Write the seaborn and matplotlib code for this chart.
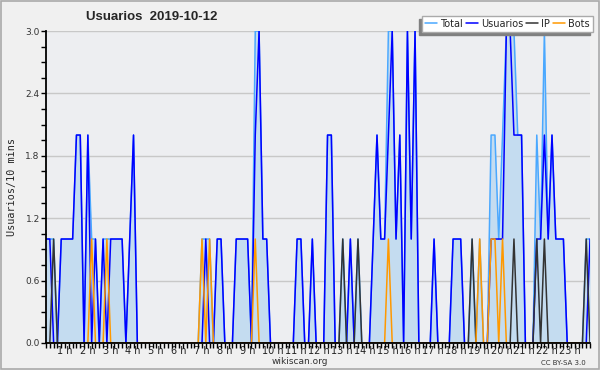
import numpy as np
import pandas as pd
import seaborn as sns
import matplotlib.pyplot as plt
from matplotlib.ticker import MultipleLocator

# valores cada 10 minutos, 12 por fila (2 horas)
total = [1, 1, 1, 0, 1, 1, 1, 1, 2, 2, 0, 2,
         1, 1, 0, 1, 1, 1, 1, 1, 1, 0, 1, 2,
         0, 0, 0, 0, 0, 0, 0, 0, 0, 0, 0, 0,
         0, 0, 0, 0, 0, 1, 1, 1, 0, 1, 1, 0,
         0, 0, 1, 1, 1, 1, 0, 3, 3, 1, 1, 0,
         0, 0, 0, 0, 0, 0, 1, 1, 0, 0, 1, 0,
         0, 0, 2, 2, 0, 0, 1, 0, 1, 0, 1, 0,
         0, 0, 1, 2, 1, 1, 3, 3, 1, 2, 0, 3,
         1, 3, 0, 0, 0, 0, 1, 0, 0, 0, 0, 1,
         1, 1, 0, 0, 1, 0, 1, 0, 0, 2, 2, 1,
         2, 3, 3, 3, 2, 2, 0, 0, 0, 2, 1, 3,
         1, 2, 1, 1, 1, 0, 0, 0, 0, 0, 1, 1]
usuarios = [1, 1, 0, 0, 1, 1, 1, 1, 2, 2, 0, 2,
            0, 1, 0, 1, 0, 1, 1, 1, 1, 0, 1, 2,
            0, 0, 0, 0, 0, 0, 0, 0, 0, 0, 0, 0,
            0, 0, 0, 0, 0, 0, 1, 0, 0, 1, 1, 0,
            0, 0, 1, 1, 1, 1, 0, 2, 3, 1, 1, 0,
            0, 0, 0, 0, 0, 0, 1, 1, 0, 0, 1, 0,
            0, 0, 2, 2, 0, 0, 0, 0, 1, 0, 0, 0,
            0, 0, 1, 2, 1, 1, 2, 3, 1, 2, 0, 3,
            1, 3, 0, 0, 0, 0, 1, 0, 0, 0, 0, 1,
            1, 1, 0, 0, 0, 0, 0, 0, 0, 1, 1, 1,
            1, 3, 3, 2, 2, 2, 0, 0, 0, 1, 1, 2,
            1, 2, 1, 1, 1, 0, 0, 0, 0, 0, 0, 1]
ip = [0, 0, 1, 0, 0, 0, 0, 0, 0, 0, 0, 0,
      0, 0, 0, 0, 0, 0, 0, 0, 0, 0, 0, 0,
      0, 0, 0, 0, 0, 0, 0, 0, 0, 0, 0, 0,
      0, 0, 0, 0, 0, 0, 0, 0, 0, 0, 0, 0,
      0, 0, 0, 0, 0, 0, 0, 0, 0, 0, 0, 0,
      0, 0, 0, 0, 0, 0, 0, 0, 0, 0, 0, 0,
      0, 0, 0, 0, 0, 0, 1, 0, 0, 0, 1, 0,
      0, 0, 0, 0, 0, 0, 0, 0, 0, 0, 0, 0,
      0, 0, 0, 0, 0, 0, 0, 0, 0, 0, 0, 0,
      0, 0, 0, 0, 1, 0, 0, 0, 0, 0, 0, 0,
      0, 0, 0, 1, 0, 0, 0, 0, 0, 1, 0, 1,
      0, 0, 0, 0, 0, 0, 0, 0, 0, 0, 1, 0]
bots = [0, 0, 0, 0, 0, 0, 0, 0, 0, 0, 0, 0,
        1, 0, 0, 0, 1, 0, 0, 0, 0, 0, 0, 0,
        0, 0, 0, 0, 0, 0, 0, 0, 0, 0, 0, 0,
        0, 0, 0, 0, 0, 1, 0, 1, 0, 0, 0, 0,
        0, 0, 0, 0, 0, 0, 0, 1, 0, 0, 0, 0,
        0, 0, 0, 0, 0, 0, 0, 0, 0, 0, 0, 0,
        0, 0, 0, 0, 0, 0, 0, 0, 0, 0, 0, 0,
        0, 0, 0, 0, 0, 0, 1, 0, 0, 0, 0, 0,
        0, 0, 0, 0, 0, 0, 0, 0, 0, 0, 0, 0,
        0, 0, 0, 0, 0, 0, 1, 0, 0, 1, 1, 0,
        1, 0, 0, 0, 0, 0, 0, 0, 0, 0, 0, 0,
        0, 0, 0, 0, 0, 0, 0, 0, 0, 0, 0, 0]
etiquetas_horas = [f'{h} h' for h in range(1, 24)]

horas = np.arange(len(total)) / 6
df = pd.DataFrame({'hora': horas, 'Total': total, 'Usuarios': usuarios,
                   'IP': ip, 'Bots': bots})

sns.set_style('white')
plt.rcParams['font.family'] = ['DejaVu Sans']

fig = plt.figure(figsize=(6, 3.7), dpi=100, facecolor='#f0f0f0')
ax = fig.add_axes([0.0767, 0.073, 0.9067, 0.843])
ax.set_facecolor('#edeef1')

ax.fill_between(df['hora'], df['Total'], color='#c4dcf0', lw=0, zorder=1)
colores = {'Total': '#4aa8ff', 'Usuarios': '#0000ff', 'IP': '#333333', 'Bots': '#ff9900'}
for serie in ['Total', 'Usuarios', 'IP', 'Bots']:
    sns.lineplot(data=df, x='hora', y=serie, color=colores[serie], lw=1.1,
                 label=serie, ax=ax, zorder=3)

ax.set_xlim(0, horas[-1])
ax.set_ylim(0, 3)
ax.yaxis.set_minor_locator(MultipleLocator(0.15))
ax.set_yticks(np.arange(0, 3.01, 0.6))
ax.set_yticklabels([f'{v:.1f}' for v in np.arange(0, 3.01, 0.6)])

# etiquetas de hora alineadas a la izquierda, media hora antes de cada hora
ax.xaxis.remove_overlapping_locs = False
ax.set_xticks(np.arange(1, 24) - 0.52)
ax.set_xticklabels(etiquetas_horas, ha='left')
ax.xaxis.set_minor_locator(MultipleLocator(1 / 6))
ax.tick_params(axis='x', which='major', length=0, labelsize=7, pad=2.5, labelcolor='#222222')
ax.tick_params(axis='x', which='minor', direction='out', length=3.5, width=1, color='black')
ax.tick_params(axis='y', which='both', direction='out', length=3.5, width=1, color='black',
               labelsize=6.5, pad=1, labelcolor='#333333')
ax.tick_params(bottom=True, left=True, which='both')
ax.tick_params(axis='x', which='major', bottom=False)

ax.grid(axis='y', which='major', color='#c8c8c8', lw=1)
ax.set_axisbelow(True)
for lado in ['top', 'right']:
    ax.spines[lado].set_visible(False)
for lado in ['left', 'bottom']:
    ax.spines[lado].set_color('black')
    ax.spines[lado].set_linewidth(1.3)
    ax.spines[lado].set_zorder(10)

ax.set_xlabel('')
ax.set_ylabel('Usuarios/10 mins', family='DejaVu Sans Mono', fontsize=7.3, labelpad=6)
fig.text(0.252, 0.955, 'Usuarios  2019-10-12', ha='center', va='center',
         fontsize=9.5, fontweight='bold', family='Liberation Sans')
fig.text(0.5, 0.023, 'wikiscan.org', ha='center', va='center', fontsize=6.5, color='#333333')
fig.text(0.977, 0.02, 'CC BY-SA 3.0', ha='right', va='center', fontsize=5, color='#333333')

leg = ax.legend(loc='lower right', bbox_to_anchor=(1.005, 0.998), ncol=4,
                frameon=True, fancybox=False, fontsize=7, handlelength=1.2,
                handletextpad=0.35, columnspacing=0.3, borderpad=0.3,
                borderaxespad=0, shadow={'ox': -2.2, 'oy': -2.2, 'color': '#808080', 'alpha': 1})
leg.get_frame().set_edgecolor('#aaaaaa')
leg.get_frame().set_facecolor('white')
leg.get_frame().set_linewidth(1)
leg.get_frame().set_alpha(1)

fig.patches.append(plt.Rectangle((0.001, 0.002), 0.997, 0.995, transform=fig.transFigure,
                                 fill=False, edgecolor='#aaaaaa', lw=1.2))
fig.savefig('out.png', dpi=100, facecolor=fig.get_facecolor())
